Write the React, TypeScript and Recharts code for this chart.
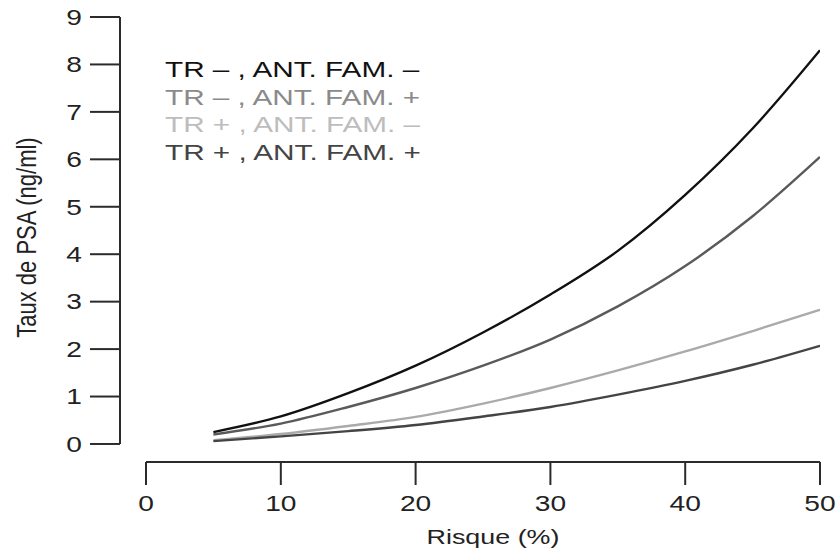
import { LineChart, Line, XAxis, YAxis, ReferenceLine, Legend } from 'recharts';

// Risque (%) values at which curves are sampled
const risk = [5, 10, 15, 20, 25, 30, 35, 40, 45, 50];

// PSA (ng/ml) for each group
const trNegFamNeg = [0.25, 0.58, 1.07, 1.65, 2.35, 3.15, 4.07, 5.25, 6.65, 8.3];
const trNegFamPos = [0.2, 0.43, 0.78, 1.18, 1.65, 2.2, 2.9, 3.75, 4.8, 6.05];
const trPosFamNeg = [0.08, 0.21, 0.38, 0.57, 0.85, 1.18, 1.55, 1.95, 2.38, 2.83];
const trPosFamPos = [0.06, 0.16, 0.27, 0.4, 0.58, 0.78, 1.04, 1.33, 1.67, 2.07];

const xTicks = [0, 10, 20, 30, 40, 50];
const yTicks = [0, 1, 2, 3, 4, 5, 6, 7, 8, 9];

const series = [
  { key: 'a', name: 'TR – , ANT. FAM. –', stroke: '#111111', text: '#111111' },
  { key: 'b', name: 'TR – , ANT. FAM. +', stroke: '#5a5a5a', text: '#8a8a8a' },
  { key: 'c', name: 'TR + , ANT. FAM. –', stroke: '#aaaaaa', text: '#bdbdbd' },
  { key: 'd', name: 'TR + , ANT. FAM. +', stroke: '#444444', text: '#444444' },
];

const data = risk.map((r, i) => ({
  risk: r,
  a: trNegFamNeg[i],
  b: trNegFamPos[i],
  c: trPosFamNeg[i],
  d: trPosFamPos[i],
}));

const X_MIN = -1.93;
const Y_MIN = -0.38;
const FONT = 'Liberation Sans, Arial, Helvetica, sans-serif';
const STRETCH = 1.28;
const AXIS = '#2b2b2b';

const XTick = ({ x, y, payload }: any) => (
  <g transform={`translate(${x},${y}) scale(${STRETCH},1)`}>
    <text textAnchor="middle" dy="0.71em" fontSize={22} fontFamily={FONT} fill="#222">
      {payload.value}
    </text>
  </g>
);

const YTick = ({ x, y, payload }: any) => (
  <g transform={`translate(${x},${y}) scale(${STRETCH},1)`}>
    <text textAnchor="end" dy="0.355em" fontSize={22} fontFamily={FONT} fill="#222">
      {payload.value}
    </text>
  </g>
);

const YTitle = ({ viewBox }: any) => {
  const cy = viewBox.y + viewBox.height / 2 - 2;
  return (
    <g transform={`translate(26,${cy}) rotate(-90) scale(1,${STRETCH})`}>
      <text textAnchor="middle" dy="0.355em" fontSize={22} fontFamily={FONT} fill="#222">
        Taux de PSA (ng/ml)
      </text>
    </g>
  );
};

const XTitle = ({ viewBox }: any) => {
  const cx = 493;
  const cy = viewBox.y + 75;
  return (
    <g transform={`translate(${cx},${cy}) scale(${STRETCH},1)`}>
      <text textAnchor="middle" dy="0.355em" fontSize={21} fontFamily={FONT} fill="#222">
        Risque (%)
      </text>
    </g>
  );
};

const LegendBox = () => (
  <div style={{ fontFamily: FONT, fontSize: 22.5, lineHeight: '27.5px' }}>
    {series.map((s) => (
      <div
        key={s.key}
        style={{ color: s.text, transform: 'scaleX(1.32)', transformOrigin: 'left', whiteSpace: 'nowrap' }}
      >
        {s.name}
      </div>
    ))}
  </div>
);

export default function App() {
  return (
    <div>
      <style>{'body{margin:0;background:#fff}'}</style>
      <LineChart width={840} height={553} data={data} margin={{ top: 17, right: 20, bottom: 0, left: 0 }}>
        <XAxis
          dataKey="risk"
          type="number"
          domain={[X_MIN, 50]}
          ticks={xTicks}
          axisLine={false}
          tickSize={23}
          tickMargin={10}
          tickLine={{ stroke: AXIS, strokeWidth: 2 }}
          tick={<XTick />}
          height={91}
          allowDataOverflow
          label={<XTitle />}
        />
        <YAxis
          type="number"
          domain={[Y_MIN, 9]}
          ticks={yTicks}
          axisLine={false}
          tickSize={30}
          tickMargin={8}
          tickLine={{ stroke: AXIS, strokeWidth: 2 }}
          tick={<YTick />}
          width={120}
          allowDataOverflow
          label={<YTitle />}
        />
        <ReferenceLine
          segment={[{ x: X_MIN, y: 0 }, { x: X_MIN, y: 9 }]}
          stroke={AXIS}
          strokeWidth={2}
          ifOverflow="visible"
        />
        <ReferenceLine
          segment={[{ x: 0, y: Y_MIN }, { x: 50, y: Y_MIN }]}
          stroke={AXIS}
          strokeWidth={2}
          ifOverflow="visible"
        />
        <Legend
          layout="vertical"
          align="center"
          verticalAlign="middle"
          content={<LegendBox />}
          wrapperStyle={{ left: 165, top: 56, width: 300 }}
        />
        {series.map((s) => (
          <Line
            key={s.key}
            type="monotone"
            dataKey={s.key}
            name={s.name}
            stroke={s.stroke}
            strokeWidth={2.4}
            dot={false}
            isAnimationActive={false}
          />
        ))}
      </LineChart>
    </div>
  );
}
